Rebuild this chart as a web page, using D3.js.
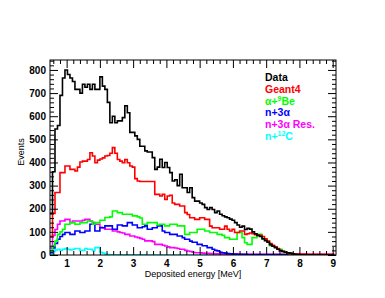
<!DOCTYPE html>
<html>
<head>
<meta charset="utf-8">
<script src="https://cdn.jsdelivr.net/npm/d3@7"></script>
<style>
  body { margin: 0; background: #fff; }
  svg { display: block; font-family: "Liberation Sans", Arial, sans-serif; }
</style>
</head>
<body>
<div id="chart"></div>
<script>
// histogram binning (MeV)
const binStart = 0.5;
const binWidth = 0.075;

const dataCounts = [180,360,545,560,690,765,800,780,765,750,
  716,716,700,738,725,738,716,738,716,716,
  770,730,716,660,572,600,572,580,580,594,
  645,615,530,530,515,500,470,470,450,445,
  445,421,370,380,414,378,400,378,356,320,
  325,300,349,291,291,270,291,248,233,233,
  225,219,205,197,205,197,183,190,176,170,
  165,161,155,150,140,130,120,125,110,115,
  112,100,92,85,80,70,62,55,45,38,
  32,25,18,15,12,10,8,5,3,2,
  1,1,0,0,1,0,0,0,0,0,
  0,0,0,0];

const geant4 = [80,180,270,270,356,356,385,385,370,370,
  363,380,402,406,406,413,442,428,399,410,
  415,420,428,430,440,464,440,413,406,399,
  413,399,385,380,330,320,318,318,318,318,
  318,318,262,262,255,262,240,255,258,225,
  219,219,212,212,183,175,161,161,154,154,
  161,161,154,154,125,118,118,118,111,111,
  125,111,104,111,97,97,104,104,89,92,
  95,92,88,85,85,80,70,60,50,42,
  35,28,20,15,12,8,6,5,4,4,
  4,4,4,3,3,3,3,3,3,3,
  3,3,3,3];

const alphaBe = [17,40,60,89,100,111,133,133,140,140,
  133,133,140,140,140,147,147,133,140,140,
  150,150,162,162,165,190,190,183,183,176,
  176,176,176,169,169,165,160,133,133,140,
  140,140,140,130,133,133,126,126,133,133,
  133,126,126,126,89,89,97,97,97,111,
  111,111,104,104,97,97,97,89,89,85,
  75,75,68,68,68,97,97,75,53,46,
  46,75,75,89,89,68,68,60,40,40,
  35,25,25,18,10,8,5,3,2,1,
  1,0,0,0,0,0,0,0,0,0,
  0,0,0,0];

const n3alpha = [10,30,50,68,80,89,97,97,89,89,
  104,104,97,97,104,104,133,133,104,104,
  118,118,126,126,126,111,111,130,130,126,
  126,140,140,130,130,118,118,122,126,111,
  111,118,118,126,126,104,97,97,89,89,
  89,82,82,75,68,68,60,55,55,46,
  46,40,40,32,32,25,20,18,12,10,
  8,6,5,4,4,3,3,3,3,2,
  2,2,2,2,2,2,2,2,2,2,
  2,2,2,2,2,2,2,2,1,1,
  1,1,1,1,1,1,1,1,1,1,
  1,1,1,1];

const n3alphaRes = [30,85,110,133,147,147,154,154,140,147,
  147,147,147,150,154,154,147,140,133,133,
  120,118,111,111,111,104,104,100,97,95,
  89,89,82,82,78,75,72,68,61,61,
  61,58,46,46,46,42,39,35,32,32,
  30,28,25,25,20,17,15,12,10,10,
  10,8,7,7,6,6,5,5,5,5,
  4,4,4,4,4,4,3,3,3,3,
  3,3,3,3,3,3,3,3,3,3,
  3,3,3,3,3,3,3,3,3,3,
  3,3,3,3,3,3,3,3,3,3,
  3,3,3,3];

const n12C = [5,15,22,25,20,25,28,25,22,25,
  28,28,20,20,28,25,25,20,32,32,
  12,8,3,2,1,1,1,1,1,1,
  1,1,1,1,1,1,1,1,0,0,
  0,0,0,0,0,0,0,0,0,0,
  0,0,0,0,0,0,0,0,0,0,
  0,0,0,0,0,0,0,0,0,0,
  0,0,0,0,0,0,0,0,0,0,
  0,0,0,0,0,0,0,0,0,0,
  0,0,0,0,0,0,0,0,0,0,
  0,0,0,0,0,0,0,0,0,0,
  0,0,0,0];

const xTicks = [1, 2, 3, 4, 5, 6, 7, 8, 9];
const yTicks = [0, 100, 200, 300, 400, 500, 600, 700, 800];

const seriesNames = ['Data', 'Geant4', 'α+9Be', 'n+3α', 'n+3α Res.', 'n+12C'];
const seriesColors = ['#000000', '#ff0000', '#00ff00', '#0000ff', '#ff00ff', '#00ffff'];
const seriesValues = [dataCounts, geant4, alphaBe, n3alpha, n3alphaRes, n12C];

const width = 385;
const height = 298;
const margin = {top: 60, right: 49, bottom: 43, left: 50};

const x = d3.scaleLinear()
    .domain([0.5, 9.1])
    .range([margin.left, width - margin.right]);

const y = d3.scaleLinear()
    .domain([0, 843])
    .range([height - margin.bottom, margin.top]);

const svg = d3.select('#chart').append('svg')
    .attr('width', width)
    .attr('height', height);

const plotL = margin.left;
const plotR = width - margin.right;
const plotT = margin.top;
const plotB = height - margin.bottom;

svg.append('clipPath').attr('id', 'plot')
  .append('rect')
    .attr('x', plotL).attr('y', plotT)
    .attr('width', plotR - plotL)
    .attr('height', plotB - plotT);

// step outline like a ROOT "hist" draw
const line = d3.line()
    .x(d => x(d[0]))
    .y(d => y(d[1]))
    .curve(d3.curveStepAfter);

const toSteps = vals => {
  const pts = vals.map((v, i) => [binStart + i * binWidth, v]);
  pts.push([binStart + vals.length * binWidth, vals[vals.length - 1]]);
  return pts;
};

const g = svg.append('g').attr('clip-path', 'url(#plot)');
[5, 4, 3, 2, 1, 0].forEach(k => {
  g.append('path')
      .attr('d', line(toSteps(seriesValues[k])))
      .attr('fill', 'none')
      .attr('stroke', seriesColors[k])
      .attr('stroke-width', 1.6);
});

// axes, ticks on all four sides pointing inward
const xMinor = d3.range(0.6, 9.05, 0.2).filter(v => Math.abs(v - Math.round(v)) > 0.01);
const yMinor = d3.range(20, 843, 20).filter(v => v % 100 !== 0);

const tickGroup = (axis, tx, ty) => {
  const a = svg.append('g')
      .attr('transform', `translate(${tx},${ty})`)
      .call(axis);
  a.select('.domain').remove();
  a.selectAll('line').attr('stroke', '#000').attr('stroke-width', 1);
  return a;
};

const xb = tickGroup(d3.axisBottom(x).tickValues(xTicks).tickSize(-8).tickPadding(5).tickFormat(d3.format('d')), 0, plotB);
tickGroup(d3.axisBottom(x).tickValues(xMinor).tickSize(-4).tickFormat(''), 0, plotB);
tickGroup(d3.axisTop(x).tickValues(xTicks).tickSize(-8).tickFormat(''), 0, plotT);
tickGroup(d3.axisTop(x).tickValues(xMinor).tickSize(-4).tickFormat(''), 0, plotT);

const yl = tickGroup(d3.axisLeft(y).tickValues(yTicks).tickSize(-8).tickPadding(4).tickFormat(d3.format('d')), plotL, 0);
tickGroup(d3.axisLeft(y).tickValues(yMinor).tickSize(-4).tickFormat(''), plotL, 0);
tickGroup(d3.axisRight(y).tickValues(yTicks).tickSize(-8).tickFormat(''), plotR, 0);
tickGroup(d3.axisRight(y).tickValues(yMinor).tickSize(-4).tickFormat(''), plotR, 0);

[xb, yl].forEach(a => a.selectAll('text')
    .attr('font-family', '"Liberation Sans", Arial, sans-serif')
    .attr('font-weight', 'bold')
    .attr('font-size', 10)
    .attr('fill', '#000'));
yl.selectAll('text').attr('x', -4);

svg.append('rect')
    .attr('x', plotL).attr('y', plotT)
    .attr('width', plotR - plotL).attr('height', plotB - plotT)
    .attr('fill', 'none').attr('stroke', '#000').attr('stroke-width', 1);

svg.append('text')
    .attr('x', (plotL + plotR) / 2)
    .attr('y', 277)
    .attr('text-anchor', 'middle')
    .attr('font-size', 9)
    .text('Deposited energy [MeV]');

svg.append('text')
    .attr('transform', `translate(24,152) rotate(-90)`)
    .attr('text-anchor', 'middle')
    .attr('font-size', 9)
    .text('Events');

// legend
const legend = svg.append('g')
    .attr('font-weight', 'bold')
    .attr('font-size', 10.5);

seriesNames.forEach((name, i) => {
  const t = legend.append('text')
      .attr('x', 265)
      .attr('y', 81 + i * 11.8)
      .attr('fill', seriesColors[i]);
  const m = name.match(/^(.*\+)(\d+)(\D+)$/);
  if (m && (i === 2 || i === 5)) {
    t.append('tspan').text(m[1]);
    t.append('tspan').attr('font-size', 7).attr('dy', -4).text(m[2]);
    t.append('tspan').attr('dy', 4).text(m[3]);
  } else {
    t.text(name);
  }
});
</script>
</body>
</html>
